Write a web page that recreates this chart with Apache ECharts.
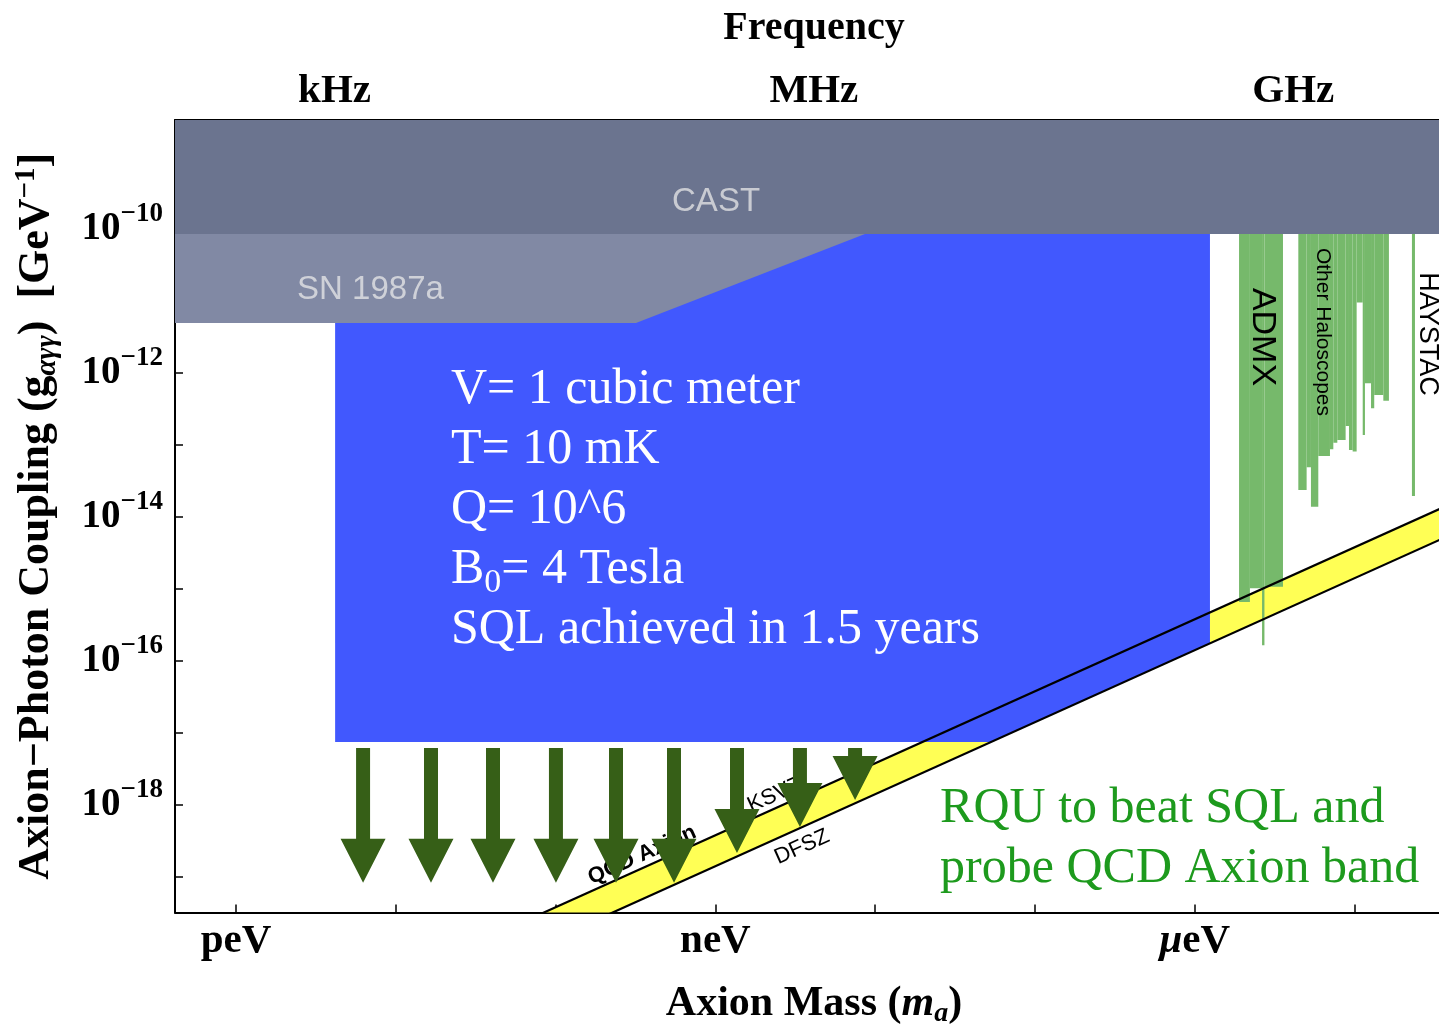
<!DOCTYPE html>
<html>
<head>
<meta charset="utf-8">
<title>Axion-Photon Coupling Reach</title>
<script src="https://cdn.jsdelivr.net/npm/echarts@6/dist/echarts.min.js"></script>
<style>
  html, body { margin: 0; padding: 0; background: #ffffff; }
  #chart { width: 1439px; height: 1024px; }
</style>
</head>
<body>
<div id="chart"></div>
<script>
// All coordinates are log10 values: axion mass in eV, coupling g_aγγ in GeV^-1.
const massRange = [-12.382, -4.384];
const couplingRange = [-19.493, -8.486];

// Bottom axis: one tick per decade of mass, labels every three decades
const massTicks = [-12, -11, -10, -9, -8, -7, -6, -5];
const massLabelTicks = [-12, -9, -6];
const massLabels = ['peV', 'neV', '{mu|μ}eV'];

// Top axis: one tick per decade of frequency (E = h·f, 1 kHz ↔ 4.136e-12 eV)
const freqTicks = [-11.3835, -10.3835, -9.3835, -8.3835, -7.3835, -6.3835, -5.3835];
const freqLabelTicks = [-11.3835, -8.3835, -5.3835];
const freqLabels = ['kHz', 'MHz', 'GHz'];

// Left axis
const couplingTicks = [-19, -18, -17, -16, -15, -14, -13, -12, -11, -10, -9];
const couplingLabelTicks = [-18, -16, -14, -12, -10];
const couplingLabels = ['−18', '−16', '−14', '−12', '−10'];

// Excluded / projected regions (polygon vertices)
const castLimit = -10.07;
const castRegion = [[-12.6, -8.0], [-4.0, -8.0], [-4.0, castLimit], [-12.6, castLimit]];
const sn1987aRegion = [[-12.6, castLimit], [-8.064, castLimit], [-9.497, -11.306], [-12.6, -11.306]];
const rquRegion = [[-11.38, castLimit], [-5.905, castLimit], [-5.905, -15.755], [-7.275, -17.125], [-11.38, -17.125]];

// QCD axion band edges
const ksvzLine = [[-11.0, -20.42], [-4.0, -13.42]];
const dfszLine = [[-11.0, -20.85], [-4.0, -13.85]];

// Haloscope exclusions: [mass from, mass to, lowest excluded coupling]
const admxSteps = [
  [-5.723, -5.655, -15.18],
  [-5.655, -5.579, -14.99],
  [-5.579, -5.564, -15.78],
  [-5.564, -5.448, -14.97]
];
const otherHaloSteps = [
  [-5.352, -5.300, -13.625],
  [-5.300, -5.273, -13.31],
  [-5.273, -5.227, -13.857],
  [-5.227, -5.154, -13.153],
  [-5.154, -5.133, -13.06],
  [-5.133, -5.108, -12.97],
  [-5.108, -5.056, -12.93],
  [-5.056, -5.035, -12.736],
  [-5.035, -5.012, -13.07],
  [-5.012, -4.987, -13.09],
  [-4.987, -4.949, -11.02],
  [-4.949, -4.935, -12.86],
  [-4.935, -4.897, -12.143],
  [-4.897, -4.877, -12.49],
  [-4.877, -4.820, -12.306],
  [-4.820, -4.785, -12.385]
];
const haystacSteps = [[-4.641, -4.622, -13.708]];

// Arrows pointing from the RQU floor down toward the QCD band
const arrowMass = [-11.205, -10.780, -10.392, -9.998, -9.622, -9.259, -8.865, -8.471, -8.126];
const arrowFrom = [-17.21, -17.21, -17.21, -17.21, -17.21, -17.21, -17.21, -17.21, -17.21];
const arrowTo = [-19.08, -19.08, -19.08, -19.08, -19.08, -19.08, -18.667, -18.306, -17.931];

const serif = 'Liberation Serif';
const sans = 'Liberation Sans';

function nearest(list, v) {
  let best = 0;
  for (let i = 1; i < list.length; i++) {
    if (Math.abs(list[i] - v) < Math.abs(list[best] - v)) best = i;
  }
  return best;
}

function polygonSeries(name, points, color, z) {
  return {
    type: 'custom',
    name: name,
    coordinateSystem: 'cartesian2d',
    clip: true,
    z: z,
    silent: true,
    data: [[points[0][0], points[0][1]]],
    renderItem: function (params, api) {
      return {
        type: 'polygon',
        shape: { points: points.map(function (p) { return api.coord(p); }) },
        style: { fill: color, stroke: null }
      };
    }
  };
}

function stepSeries(name, steps, color, z) {
  return {
    type: 'custom',
    name: name,
    coordinateSystem: 'cartesian2d',
    clip: true,
    z: z,
    silent: true,
    encode: { x: [0, 1], y: 2 },
    data: steps,
    renderItem: function (params, api) {
      const a = api.coord([api.value(0), castLimit]);
      const b = api.coord([api.value(1), api.value(2)]);
      return {
        type: 'rect',
        shape: { x: a[0], y: a[1], width: b[0] - a[0], height: b[1] - a[1] },
        style: { fill: color }
      };
    }
  };
}

function lineSeries(name, pts, z) {
  return {
    type: 'line',
    name: name,
    data: pts,
    symbol: 'none',
    silent: true,
    z: z,
    clip: true,
    lineStyle: { color: '#000000', width: 2.2 },
    animation: false
  };
}

const arrowData = arrowMass.map(function (m, i) { return [m, arrowFrom[i], arrowTo[i]]; });

const arrowSeries = {
  type: 'custom',
  name: 'arrows',
  coordinateSystem: 'cartesian2d',
  clip: true,
  z: 20,
  silent: true,
  encode: { x: 0, y: [1, 2] },
  data: arrowData,
  renderItem: function (params, api) {
    const top = api.coord([api.value(0), api.value(1)]);
    const tip = api.coord([api.value(0), api.value(2)]);
    const x = top[0];
    const shaft = 7, head = 22.5, headLen = 44;
    const neck = tip[1] - headLen;
    return {
      type: 'polygon',
      shape: {
        points: [
          [x - shaft, top[1]], [x + shaft, top[1]], [x + shaft, neck],
          [x + head, neck], [x, tip[1]], [x - head, neck], [x - shaft, neck]
        ]
      },
      style: { fill: '#365f17' }
    };
  }
};

const boldSerif = { fontFamily: serif, fontWeight: 'bold', color: '#000000' };

const option = {
  backgroundColor: '#ffffff',
  animation: false,
  grid: {
    left: 175, right: -14, top: 120, bottom: 111.5,
    outerBoundsMode: 'none', containLabel: false
  },
  xAxis: [
    {
      type: 'value',
      position: 'bottom',
      min: massRange[0], max: massRange[1],
      name: 'Axion Mass ({it|m}{sub|a})',
      nameLocation: 'middle',
      nameGap: 69,
      nameTextStyle: Object.assign({}, boldSerif, {
        fontSize: 42, lineHeight: 46,
        rich: {
          it: { fontFamily: serif, fontWeight: 'bold', fontStyle: 'italic', fontSize: 42, lineHeight: 46 },
          sub: { fontFamily: serif, fontWeight: 'bold', fontStyle: 'italic', fontSize: 28, lineHeight: 18, verticalAlign: 'bottom' }
        }
      }),
      axisLine: { show: true, onZero: false, lineStyle: { color: '#000000', width: 2 } },
      axisTick: { show: true, inside: true, length: 8, customValues: massTicks, lineStyle: { color: '#000000', width: 1.5 } },
      axisLabel: Object.assign({}, boldSerif, {
        fontSize: 41, margin: 8, lineHeight: 42,
        customValues: massLabelTicks,
        formatter: function (v) { return massLabels[nearest(massLabelTicks, v)]; },
        rich: { mu: { fontFamily: serif, fontWeight: 'bold', fontStyle: 'italic', fontSize: 41 } }
      }),
      splitLine: { show: false }
    },
    {
      type: 'value',
      position: 'top',
      min: massRange[0], max: massRange[1],
      name: 'Frequency',
      nameLocation: 'middle',
      nameGap: 71,
      nameTextStyle: Object.assign({}, boldSerif, { fontSize: 40 }),
      axisLine: { show: true, onZero: false, lineStyle: { color: '#000000', width: 2 } },
      axisTick: { show: true, inside: true, length: 8, customValues: freqTicks, lineStyle: { color: '#000000', width: 1.5 } },
      axisLabel: Object.assign({}, boldSerif, {
        fontSize: 41, margin: 8, lineHeight: 42,
        customValues: freqLabelTicks,
        formatter: function (v) { return freqLabels[nearest(freqLabelTicks, v)]; }
      }),
      splitLine: { show: false }
    }
  ],
  yAxis: {
    type: 'value',
    min: couplingRange[0], max: couplingRange[1],
    name: 'Axion−Photon Coupling (g{sub|αγγ})  [GeV{sup|−1}]',
    nameLocation: 'middle',
    nameRotate: 90,
    nameGap: 113,
    nameTextStyle: Object.assign({}, boldSerif, {
      fontSize: 44, lineHeight: 50,
      rich: {
        sub: { fontFamily: serif, fontStyle: 'italic', fontSize: 29, lineHeight: 18, verticalAlign: 'bottom' },
        sup: { fontFamily: serif, fontWeight: 'bold', fontSize: 29, lineHeight: 22, verticalAlign: 'top' }
      }
    }),
    axisLine: { show: true, onZero: false, lineStyle: { color: '#000000', width: 2 } },
    axisTick: { show: true, inside: true, length: 8, customValues: couplingTicks, lineStyle: { color: '#000000', width: 1.5 } },
    axisLabel: Object.assign({}, boldSerif, {
      fontSize: 39, lineHeight: 56, margin: 12,
      customValues: couplingLabelTicks,
      formatter: function (v) { return '10{sup|' + couplingLabels[nearest(couplingLabelTicks, v)] + '}'; },
      rich: { sup: { fontFamily: serif, fontWeight: 'bold', fontSize: 27, lineHeight: 26, verticalAlign: 'top' } }
    }),
    splitLine: { show: false }
  },
  series: [
    polygonSeries('QCD axion band', [ksvzLine[0], ksvzLine[1], dfszLine[1], dfszLine[0]], '#ffff55', 1),
    polygonSeries('RQU reach', rquRegion, '#4158fe', 2),
    polygonSeries('SN 1987a', sn1987aRegion, '#8189a4', 3),
    polygonSeries('CAST', castRegion, '#6b748f', 4),
    stepSeries('ADMX', admxSteps, '#76b96b', 5),
    stepSeries('Other Haloscopes', otherHaloSteps, '#76b96b', 5),
    stepSeries('HAYSTAC', haystacSteps, '#76b96b', 5),
    lineSeries('KSVZ', ksvzLine, 6),
    lineSeries('DFSZ', dfszLine, 6),
    arrowSeries
  ]
};

const chart = echarts.init(document.getElementById('chart'), null, { renderer: 'canvas' });
chart.setOption(option);

// Text annotations, anchored in data coordinates
function at(p) { return chart.convertToPixel({ xAxisIndex: 0, yAxisIndex: 0 }, p); }

const slopeAngle = 24.3 * Math.PI / 180;

const notes = [
  { pos: [-8.996, -9.625], text: 'CAST', font: sans, size: 33, fill: '#c9cbd2', align: 'center' },
  { pos: [-11.618, -10.847], text: 'SN 1987a', font: sans, size: 33, fill: '#cfd1d8', align: 'left' },
  { pos: [-5.579, -11.5], text: 'ADMX', font: sans, size: 34, fill: '#000000', align: 'center', rotation: -Math.PI / 2 },
  { pos: [-5.198, -11.43], text: 'Other Haloscopes', font: sans, size: 21, fill: '#000000', align: 'center', rotation: -Math.PI / 2 },
  { pos: [-4.541, -11.458], text: 'HAYSTAC', font: sans, size: 27, fill: '#000000', align: 'center', rotation: -Math.PI / 2 },
  { pos: [-9.459, -18.694], text: 'QCD Axion', font: sans, size: 22, weight: 'bold', fill: '#000000', align: 'center', rotation: slopeAngle },
  { pos: [-8.627, -17.861], text: 'KSVZ', font: sans, size: 22, fill: '#000000', align: 'center', rotation: slopeAngle },
  { pos: [-8.458, -18.583], text: 'DFSZ', font: sans, size: 22, fill: '#000000', align: 'center', rotation: slopeAngle }
];

const graphics = notes.map(function (n) {
  const p = at(n.pos);
  return {
    type: 'text',
    x: p[0], y: p[1],
    rotation: n.rotation || 0,
    z: 15,
    silent: true,
    style: {
      text: n.text,
      fontFamily: n.font,
      fontSize: n.size,
      fontWeight: n.weight || 'normal',
      fill: n.fill,
      align: n.align,
      verticalAlign: 'middle'
    }
  };
});

const specLines = [
  'V= 1 cubic meter',
  'T= 10 mK',
  'Q= 10^6',
  'B{sub|0}= 4 Tesla',
  'SQL achieved in 1.5 years'
];
const specPos = at([-10.655, -11.819]);
graphics.push({
  type: 'text',
  x: specPos[0], y: specPos[1],
  z: 15, silent: true,
  style: {
    text: specLines.join('\n'),
    fontFamily: serif, fontSize: 50, lineHeight: 60,
    fill: '#ffffff', align: 'left', verticalAlign: 'top',
    rich: { sub: { fontFamily: serif, fontSize: 34, lineHeight: 28, verticalAlign: 'bottom', fill: '#ffffff' } }
  }
});

const goalPos = at([-7.594, -17.64]);
graphics.push({
  type: 'text',
  x: goalPos[0], y: goalPos[1],
  z: 15, silent: true,
  style: {
    text: 'RQU to beat SQL and\nprobe QCD Axion band',
    fontFamily: serif, fontSize: 50, lineHeight: 60,
    fill: '#1d9a1d', align: 'left', verticalAlign: 'top'
  }
});

chart.setOption({ graphic: { elements: graphics } });
</script>
</body>
</html>
